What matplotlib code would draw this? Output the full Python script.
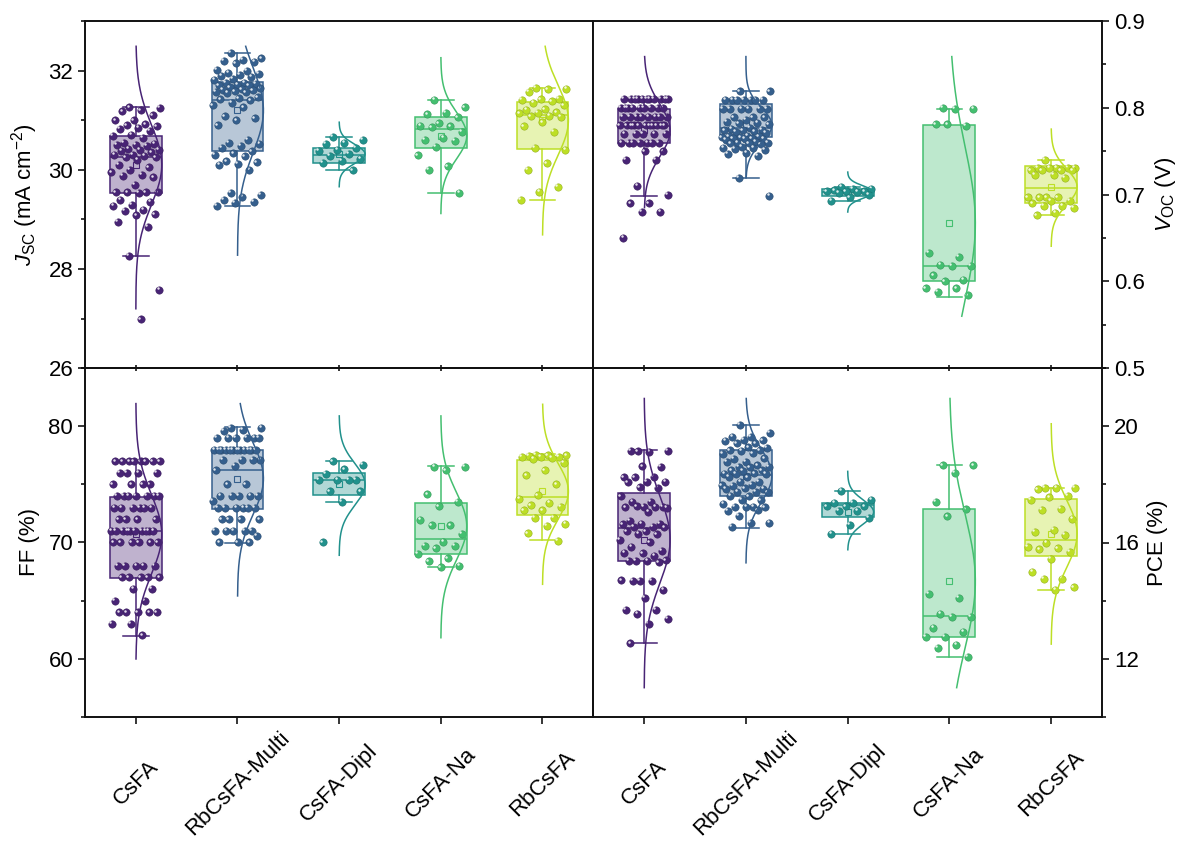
import numpy as np
import matplotlib
matplotlib.use("Agg")
import matplotlib.pyplot as plt
from matplotlib.ticker import MultipleLocator
from matplotlib.transforms import ScaledTranslation

plt.rcParams['font.family'] = ['Liberation Sans', 'DejaVu Sans']
plt.rcParams['mathtext.fontset'] = 'custom'
plt.rcParams['mathtext.rm'] = 'Liberation Sans'
plt.rcParams['mathtext.it'] = 'Liberation Sans:italic'
plt.rcParams['mathtext.bf'] = 'Liberation Sans:bold'

groups = ["CsFA", "RbCsFA-Multi", "CsFA-Dipl", "CsFA-Na", "RbCsFA"]

# ---------------- Jsc (mA cm-2) ----------------
jsc_csfa = [31.26, 31.25, 31.20, 31.18, 31.10, 31.00, 31.00, 30.92, 30.90, 30.88, 30.85, 30.82, 30.78,
            30.70, 30.68, 30.65, 30.55, 30.52, 30.50, 30.50, 30.48, 30.42, 30.40, 30.40, 30.38, 30.35,
            30.30, 30.30, 30.28, 30.25, 30.25, 30.20, 30.10, 30.05, 30.00, 29.95, 29.90, 29.88, 29.85,
            29.70, 29.55, 29.55, 29.55, 29.55, 29.54, 29.40, 29.35, 29.30, 29.28, 29.20, 29.18, 29.10,
            29.08, 28.95, 28.85, 28.27, 27.58, 26.99]
jsc_multi = [32.36, 32.25, 32.22, 32.20, 32.18, 32.15, 32.02, 32.00, 31.95, 31.93, 31.92, 31.90, 31.88,
             31.83, 31.82, 31.76, 31.75, 31.73, 31.72, 31.70, 31.70, 31.66, 31.64, 31.62, 31.61, 31.60,
             31.58, 31.57, 31.56, 31.55, 31.46, 31.44, 31.42, 31.40, 31.35, 31.30, 31.26, 31.08, 31.04,
             31.00, 30.90, 30.60, 30.55, 30.52, 30.48, 30.45, 30.37, 30.33, 30.30, 30.27, 30.17, 30.15,
             30.12, 30.10, 30.00, 29.53, 29.50, 29.46, 29.40, 29.36, 29.33, 29.28]
jsc_dipl = [30.67, 30.60, 30.55, 30.52, 30.45, 30.40, 30.38, 30.32, 30.28, 30.22, 30.18, 30.14, 29.99]
jsc_na = [31.41, 31.26, 31.15, 31.12, 31.06, 30.94, 30.89, 30.88, 30.86, 30.77, 30.64, 30.60, 30.59,
          30.46, 30.29, 30.07, 30.00, 29.54]
jsc_rb = [31.65, 31.63, 31.62, 31.57, 31.43, 31.42, 31.41, 31.38, 31.35, 31.30, 31.22, 31.21, 31.16,
          31.15, 31.14, 31.09, 31.08, 31.07, 30.96, 30.88, 30.77, 30.45, 30.40, 30.13, 30.00, 29.66,
          29.56, 29.39]
jsc_q1 = [29.54, 30.38, 30.13, 30.45, 30.42]
jsc_med = [30.25, 31.41, 30.30, 30.82, 31.10]
jsc_q3 = [30.69, 31.78, 30.44, 31.06, 31.36]
jsc_lo = [28.27, 29.28, 29.99, 29.54, 29.39]
jsc_hi = [31.26, 32.36, 30.67, 31.41, 31.65]
jsc_mean = [30.10, 31.20, 30.32, 30.69, 31.00]
jsc_sd = [0.80, 0.85, 0.19, 0.47, 0.70]
jsc_curve_lo = [27.20, 28.28, 29.66, 29.12, 28.69]
jsc_curve_hi = [32.49, 32.49, 30.96, 32.26, 32.49]

# ---------------- Voc (V) ----------------
voc_csfa = [0.81, 0.81, 0.81, 0.81, 0.81, 0.81, 0.81, 0.81, 0.81, 0.81, 0.81,
            0.80, 0.80, 0.80, 0.80, 0.80, 0.80, 0.80, 0.80, 0.80,
            0.79, 0.79, 0.79, 0.79, 0.79, 0.79, 0.79, 0.79,
            0.78, 0.78, 0.78, 0.78, 0.78, 0.78, 0.78, 0.78, 0.78, 0.78, 0.78,
            0.77, 0.77, 0.77, 0.77, 0.77,
            0.76, 0.76, 0.76, 0.76, 0.76, 0.76, 0.76,
            0.75, 0.75, 0.74, 0.74, 0.71, 0.70, 0.69, 0.69, 0.68, 0.68, 0.65]
voc_multi = [0.819, 0.819, 0.809, 0.809, 0.809, 0.809, 0.809, 0.809, 0.809,
             0.799, 0.799, 0.799, 0.799, 0.799, 0.799, 0.789, 0.789, 0.789,
             0.786, 0.784, 0.783, 0.782, 0.781, 0.777, 0.776, 0.775, 0.774, 0.774, 0.773, 0.772, 0.771,
             0.768, 0.767, 0.767, 0.766, 0.766, 0.765, 0.765, 0.764, 0.764, 0.763,
             0.761, 0.760, 0.760, 0.759, 0.759, 0.758, 0.755, 0.754, 0.754, 0.753, 0.752,
             0.748, 0.747, 0.745, 0.719, 0.699]
voc_dipl = [0.709, 0.707, 0.707, 0.705, 0.704, 0.704, 0.704, 0.703, 0.702, 0.700, 0.697, 0.693]
voc_na = [0.800, 0.799, 0.799, 0.781, 0.779, 0.781, 0.633, 0.628, 0.619, 0.618, 0.618, 0.607,
          0.602, 0.600, 0.592, 0.592, 0.588, 0.584]
voc_rb = [0.740, 0.731, 0.731, 0.731, 0.731, 0.731, 0.728, 0.728, 0.728, 0.728, 0.723, 0.723, 0.719,
          0.697, 0.697, 0.697, 0.697, 0.693, 0.693, 0.690, 0.687, 0.687, 0.685, 0.679, 0.676]
voc_q1 = [0.759, 0.766, 0.699, 0.600, 0.690]
voc_med = [0.779, 0.777, 0.703, 0.618, 0.7076]
voc_q3 = [0.799, 0.804, 0.707, 0.780, 0.7325]
voc_lo = [0.699, 0.719, 0.693, 0.5816, 0.676]
voc_hi = [0.809, 0.819, 0.709, 0.7985, 0.740]
voc_mean = [0.774, 0.780, 0.703, 0.667, 0.709]
voc_sd = [0.030, 0.020, 0.007, 0.088, 0.0205]
voc_curve_lo = [0.685, 0.720, 0.680, 0.560, 0.6406]
voc_curve_hi = [0.859, 0.859, 0.726, 0.859, 0.7755]

# ---------------- FF (%) ----------------
ff_csfa = [77, 77, 77, 77, 77, 77, 77, 77, 76, 76, 76, 76, 75, 75, 75, 75,
           74, 74, 74, 74, 74, 74, 74, 73, 73, 73, 73, 73, 73, 72, 72, 72, 72,
           71, 71, 71, 71, 71, 71, 71, 71, 71, 71, 70, 70, 70, 70, 70, 70,
           68, 68, 68, 68, 68, 67, 67, 67, 67, 67, 66, 66, 65, 65,
           64, 64, 64, 64, 64, 63, 63, 62]
ff_multi = [79.9, 79.9, 79.7, 79.6, 79.0, 79.0, 79.0, 79.0, 79.0, 79.0,
            78.0, 78.0, 78.0, 78.0, 78.0, 78.0, 78.0, 78.0, 78.0, 78.0, 78.0, 78.0,
            77.1, 77.1, 77.1, 77.1, 76.6, 76.2, 75.0, 75.0, 74.0, 74.0, 74.0, 74.0, 74.0, 73.6,
            73.0, 73.0, 73.0, 73.0, 73.0, 73.0, 72.0, 72.0, 72.0, 72.0,
            71.0, 71.0, 71.0, 71.0, 71.0, 70.6, 70.0, 70.0, 70.0]
ff_dipl = [77.0, 76.7, 76.3, 75.9, 75.4, 75.4, 75.4, 75.4, 74.4, 74.4, 73.5, 70.0]
ff_na = [76.5, 76.5, 76.2, 74.14, 73.48, 73.1, 71.95, 71.47, 71.47, 70.75, 70.03, 69.74, 69.74,
         69.5, 69.0, 68.65, 68.39, 68.0, 67.87]
ff_rb = [77.55, 77.5, 77.5, 77.45, 77.4, 77.4, 77.35, 77.3, 77.2, 76.84, 76.2, 75.78, 75.0, 74.05,
         73.77, 73.39, 73.19, 73.05, 72.76, 72.76, 72.1, 72.1, 71.61, 71.41, 70.8, 70.17]
ff_q1 = [66.96, 72.90, 74.10, 68.97, 72.40]
ff_med = [70.95, 76.20, 75.40, 70.30, 73.90]
ff_q3 = [73.90, 77.93, 75.97, 73.42, 77.10]
ff_lo = [61.92, 69.97, 73.45, 67.90, 70.20]
ff_hi = [76.98, 79.94, 77.00, 76.60, 77.60]
ff_mean = [70.7, 75.5, 75.0, 71.4, 74.4]
ff_sd = [3.4, 3.06, 1.8, 2.9, 2.4]
ff_curve_lo = [59.97, 65.4, 68.9, 61.8, 66.4]
ff_curve_hi = [81.96, 81.96, 80.9, 80.9, 81.9]

# ---------------- PCE (%) ----------------
pce_csfa = [19.14, 19.15, 19.13, 19.16, 18.60, 18.62, 18.25, 18.26, 18.24, 18.08, 18.09, 18.07,
            17.89, 17.90, 17.59, 17.39, 17.40, 17.22, 17.23, 17.21, 17.22, 17.24, 17.20, 17.05,
            16.74, 16.64, 16.65, 16.63, 16.53, 16.54, 16.52, 16.38, 16.39, 16.28, 16.29, 16.09,
            16.01, 15.84, 15.72, 15.63, 15.64, 15.55, 15.38, 15.39, 15.37, 15.38, 15.32,
            14.69, 14.70, 14.68, 14.69, 14.37, 14.09, 13.68, 13.69, 13.54, 13.37, 13.20, 12.53]
pce_multi = [20.06, 19.78, 19.63, 19.64, 19.52, 19.53, 19.51, 19.42, 19.41, 19.27, 19.28,
             19.17, 19.18, 19.16, 19.06, 19.07, 18.89, 18.90, 18.77, 18.78, 18.66, 18.60, 18.61, 18.59,
             18.48, 18.49, 18.47, 18.37, 18.38, 18.36, 18.37, 18.25, 18.26, 18.08, 18.09,
             17.97, 17.98, 17.96, 17.85, 17.86, 17.84, 17.74, 17.75, 17.73, 17.59, 17.60,
             17.45, 17.46, 17.33, 17.22, 17.23, 17.21, 17.22, 17.10, 17.11, 16.91, 16.67, 16.68, 16.53]
pce_dipl = [17.77, 17.46, 17.36, 17.36, 17.25, 17.25, 17.25, 17.10, 17.10, 16.86, 16.60, 16.30]
pce_na = [18.66, 18.66, 18.40, 17.39, 17.14, 16.90, 14.23, 14.09, 13.54, 13.43, 13.43, 13.05,
          12.92, 12.74, 12.74, 12.48, 12.37, 12.07]
pce_rb = [17.89, 17.89, 17.89, 17.83, 17.61, 17.55, 17.48, 17.16, 17.13, 16.82, 16.44, 16.36,
          16.26, 15.98, 15.86, 15.80, 15.76, 15.69, 15.44, 14.98, 14.75, 14.75, 14.46, 14.37]
pce_q1 = [15.36, 17.60, 16.87, 12.74, 15.55]
pce_med = [16.50, 18.33, 17.28, 13.48, 16.09]
pce_q3 = [17.71, 19.17, 17.37, 17.14, 17.50]
pce_lo = [12.53, 16.50, 16.30, 12.07, 14.37]
pce_hi = [19.20, 20.06, 17.76, 18.66, 17.87]
pce_mean = [16.10, 18.30, 17.05, 14.67, 16.30]
pce_sd = [1.5, 0.9, 0.41, 2.3, 1.15]
pce_curve_lo = [11.0, 15.3, 15.75, 11.0, 12.5]
pce_curve_hi = [20.96, 20.96, 18.45, 20.96, 20.09]

colors = [plt.cm.viridis(v) for v in (0.1, 0.3, 0.5, 0.7, 0.9)]

fig = plt.figure(figsize=(11.9, 8.42), dpi=100)
W, H = 1190.0, 842.0
xl, xm, xr = 85.0, 593.3, 1102.0
yt, ym, yb = 21.0, 368.3, 716.7
axJ = fig.add_axes([xl / W, 1 - ym / H, (xm - xl) / W, (ym - yt) / H])
axV = fig.add_axes([xm / W, 1 - ym / H, (xr - xm) / W, (ym - yt) / H])
axF = fig.add_axes([xl / W, 1 - yb / H, (xm - xl) / W, (yb - ym) / H])
axP = fig.add_axes([xm / W, 1 - yb / H, (xr - xm) / W, (yb - ym) / H])
for a in (axF, axP):
    a.set_facecolor('none')

hl_shift = ScaledTranslation(-1.2 / 72, 1.2 / 72, fig.dpi_scale_trans)


def draw_panel(ax, data, q1, med, q3, lo, hi, mean, sd, clo, chi):
    stats = [dict(q1=q1[i], med=med[i], q3=q3[i], whislo=lo[i], whishi=hi[i],
                  mean=mean[i], fliers=[]) for i in range(5)]
    bp = ax.bxp(stats, positions=list(range(5)), widths=0.51, capwidths=0.25,
                patch_artist=True, showmeans=True, showfliers=False, zorder=2,
                meanprops=dict(marker='s', markersize=4.2, markerfacecolor='none',
                               markeredgewidth=0.8))
    for i, c in enumerate(colors):
        bp['boxes'][i].set_facecolor((c[0], c[1], c[2], 0.35))
        bp['boxes'][i].set_edgecolor(c)
        bp['boxes'][i].set_linewidth(1.1)
        bp['medians'][i].set_color(c)
        bp['medians'][i].set_linewidth(1.1)
        bp['means'][i].set_markeredgecolor(c)
        for j in (2 * i, 2 * i + 1):
            bp['whiskers'][j].set_color(c)
            bp['whiskers'][j].set_linewidth(1.1)
            bp['caps'][j].set_color(c)
            bp['caps'][j].set_linewidth(1.1)
    for i, vals in enumerate(data):
        c = colors[i]
        dark = (c[0] * 0.8, c[1] * 0.8, c[2] * 0.8, 1)
        k = np.arange(len(vals))
        off = ((k * 0.6180339887 + 0.37) % 1.0 - 0.5) * 0.48
        x = i + off
        ax.scatter(x, vals, s=28, color=c, edgecolors=[dark], linewidths=0.4, zorder=3)
        ax.scatter(x, vals, s=3.2, color='white', alpha=0.85, linewidths=0, zorder=3.1,
                   transform=ax.transData + hl_shift)
        yy = np.linspace(clo[i], chi[i], 300)
        pdf = np.exp(-0.5 * ((yy - mean[i]) / sd[i]) ** 2)
        ax.plot(i + 0.255 * pdf, yy, color=c, lw=1.1, zorder=4)
    ax.set_xlim(-0.5, 4.5)
    ax.set_xticks(range(5))
    for s in ax.spines.values():
        s.set_linewidth(1.4)
        s.set_color('#111111')


draw_panel(axJ, [jsc_csfa, jsc_multi, jsc_dipl, jsc_na, jsc_rb], jsc_q1, jsc_med, jsc_q3,
           jsc_lo, jsc_hi, jsc_mean, jsc_sd, jsc_curve_lo, jsc_curve_hi)
draw_panel(axV, [voc_csfa, voc_multi, voc_dipl, voc_na, voc_rb], voc_q1, voc_med, voc_q3,
           voc_lo, voc_hi, voc_mean, voc_sd, voc_curve_lo, voc_curve_hi)
draw_panel(axF, [ff_csfa, ff_multi, ff_dipl, ff_na, ff_rb], ff_q1, ff_med, ff_q3,
           ff_lo, ff_hi, ff_mean, ff_sd, ff_curve_lo, ff_curve_hi)
draw_panel(axP, [pce_csfa, pce_multi, pce_dipl, pce_na, pce_rb], pce_q1, pce_med, pce_q3,
           pce_lo, pce_hi, pce_mean, pce_sd, pce_curve_lo, pce_curve_hi)

FS = 16
# Jsc
axJ.set_ylim(26, 33)
axJ.yaxis.set_major_locator(MultipleLocator(2))
axJ.yaxis.set_minor_locator(MultipleLocator(1))
axJ.set_ylabel(r'$J_{\rm SC}$ (mA cm$^{-2}$)', fontsize=FS, labelpad=6)
# Voc
axV.set_ylim(0.5, 0.9)
axV.yaxis.set_major_locator(MultipleLocator(0.1))
axV.yaxis.set_minor_locator(MultipleLocator(0.05))
axV.yaxis.tick_right()
axV.yaxis.set_label_position('right')
axV.set_ylabel(r'$V_{\rm OC}$ (V)', fontsize=FS, labelpad=6)
# FF
axF.set_ylim(55, 85)
axF.yaxis.set_major_locator(MultipleLocator(10))
axF.yaxis.set_minor_locator(MultipleLocator(5))
axF.set_ylabel('FF (%)', fontsize=FS, labelpad=6)
# PCE
axP.set_ylim(10, 22)
axP.yaxis.set_major_locator(MultipleLocator(4))
axP.yaxis.set_minor_locator(MultipleLocator(2))
axP.yaxis.tick_right()
axP.yaxis.set_label_position('right')
axP.set_ylabel('PCE (%)', fontsize=FS, labelpad=6)

for a in (axJ, axF):
    a.tick_params(axis='y', which='both', direction='out', left=True, right=False,
                  labelleft=True, labelright=False, width=1.1, labelsize=FS)
for a in (axV, axP):
    a.tick_params(axis='y', which='both', direction='out', left=False, right=True,
                  labelleft=False, labelright=True, width=1.1, labelsize=FS)
for a in (axJ, axV, axF, axP):
    a.tick_params(axis='y', which='major', length=5)
    a.tick_params(axis='y', which='minor', length=3)
for a in (axJ, axV):
    a.tick_params(axis='x', which='both', direction='inout', length=4, width=1.1,
                  bottom=True, top=False, labelbottom=False)
for a in (axF, axP):
    a.tick_params(axis='x', which='both', direction='out', length=5, width=1.1,
                  bottom=True, top=False, labelbottom=True, labelsize=FS, pad=43)
    a.set_xticklabels(groups, rotation=45, ha='center', va='center')

fig.savefig('out.png', dpi=100)
